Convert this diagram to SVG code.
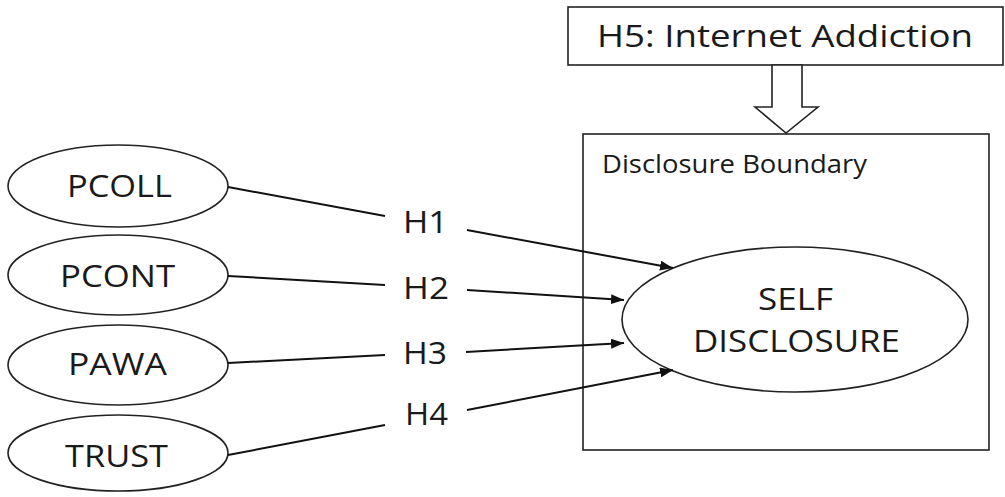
<svg xmlns="http://www.w3.org/2000/svg" width="1005" height="497" viewBox="0 0 1005 497">
<style>
.t{font-family:"Open Sans","Noto Sans",sans-serif;fill:#1a1a1a;}
.shape{fill:#fff;stroke:#222;stroke-width:1.6;}
.conn{stroke:#111;stroke-width:2;fill:none;}
</style>
<defs>
<marker id="ah" markerUnits="userSpaceOnUse" markerWidth="14" markerHeight="10" refX="13" refY="5" orient="auto">
<path d="M0,0 L13,5 L0,10 Z" fill="#111"/>
</marker>
</defs>
<rect width="1005" height="497" fill="#fff"/>
<g id="h5">
<rect class="shape" x="568" y="7" width="435" height="58"/>
<text class="t" x="597" y="47" font-size="31" textLength="376" lengthAdjust="spacingAndGlyphs">H5: Internet Addiction</text>
</g>
<g id="h5-arrow">
<polygon class="shape" points="772,65 802,65 802,107 818,107 786,133 755,107 772,107"/>
</g>
<g id="boundary">
<rect class="shape" x="583" y="134" width="406" height="316" fill="none"/>
<text class="t" x="602" y="173" font-size="25" textLength="265" lengthAdjust="spacingAndGlyphs">Disclosure Boundary</text>
</g>
<g id="self-disclosure">
<ellipse class="shape" cx="795" cy="319.5" rx="173" ry="72.5"/>
<text class="t" x="758" y="310" font-size="31" textLength="75" lengthAdjust="spacingAndGlyphs">SELF</text>
<text class="t" x="693" y="352" font-size="31" textLength="207" lengthAdjust="spacingAndGlyphs">DISCLOSURE</text>
</g>
<g id="pcoll">
<ellipse class="shape" cx="118" cy="186" rx="110" ry="41"/>
<text class="t" x="67" y="197" font-size="31" textLength="105" lengthAdjust="spacingAndGlyphs">PCOLL</text>
</g>
<g id="pcont">
<ellipse class="shape" cx="118" cy="275" rx="110" ry="40"/>
<text class="t" x="60" y="287" font-size="31" textLength="115" lengthAdjust="spacingAndGlyphs">PCONT</text>
</g>
<g id="pawa">
<ellipse class="shape" cx="118" cy="365" rx="110" ry="40"/>
<text class="t" x="68" y="375" font-size="31" textLength="99" lengthAdjust="spacingAndGlyphs">PAWA</text>
</g>
<g id="trust">
<ellipse class="shape" cx="118" cy="453" rx="110" ry="38"/>
<text class="t" x="65" y="467" font-size="31" textLength="103" lengthAdjust="spacingAndGlyphs">TRUST</text>
</g>
<g id="connectors">
<line class="conn" x1="228" y1="187" x2="385" y2="216"/>
<line class="conn" x1="467" y1="230" x2="673" y2="268" marker-end="url(#ah)"/>
<line class="conn" x1="228" y1="276" x2="385" y2="285"/>
<line class="conn" x1="467" y1="290" x2="624" y2="300" marker-end="url(#ah)"/>
<line class="conn" x1="228" y1="363" x2="385" y2="355"/>
<line class="conn" x1="466" y1="352" x2="624" y2="343" marker-end="url(#ah)"/>
<line class="conn" x1="228" y1="455" x2="385" y2="425"/>
<line class="conn" x1="467" y1="410" x2="673" y2="370" marker-end="url(#ah)"/>
<text class="t" x="403" y="233" font-size="31" textLength="45" lengthAdjust="spacingAndGlyphs">H1</text>
<text class="t" x="403" y="299" font-size="31" textLength="46" lengthAdjust="spacingAndGlyphs">H2</text>
<text class="t" x="403" y="364" font-size="31" textLength="44" lengthAdjust="spacingAndGlyphs">H3</text>
<text class="t" x="405" y="425" font-size="31" textLength="43" lengthAdjust="spacingAndGlyphs">H4</text>
</g>
</svg>
